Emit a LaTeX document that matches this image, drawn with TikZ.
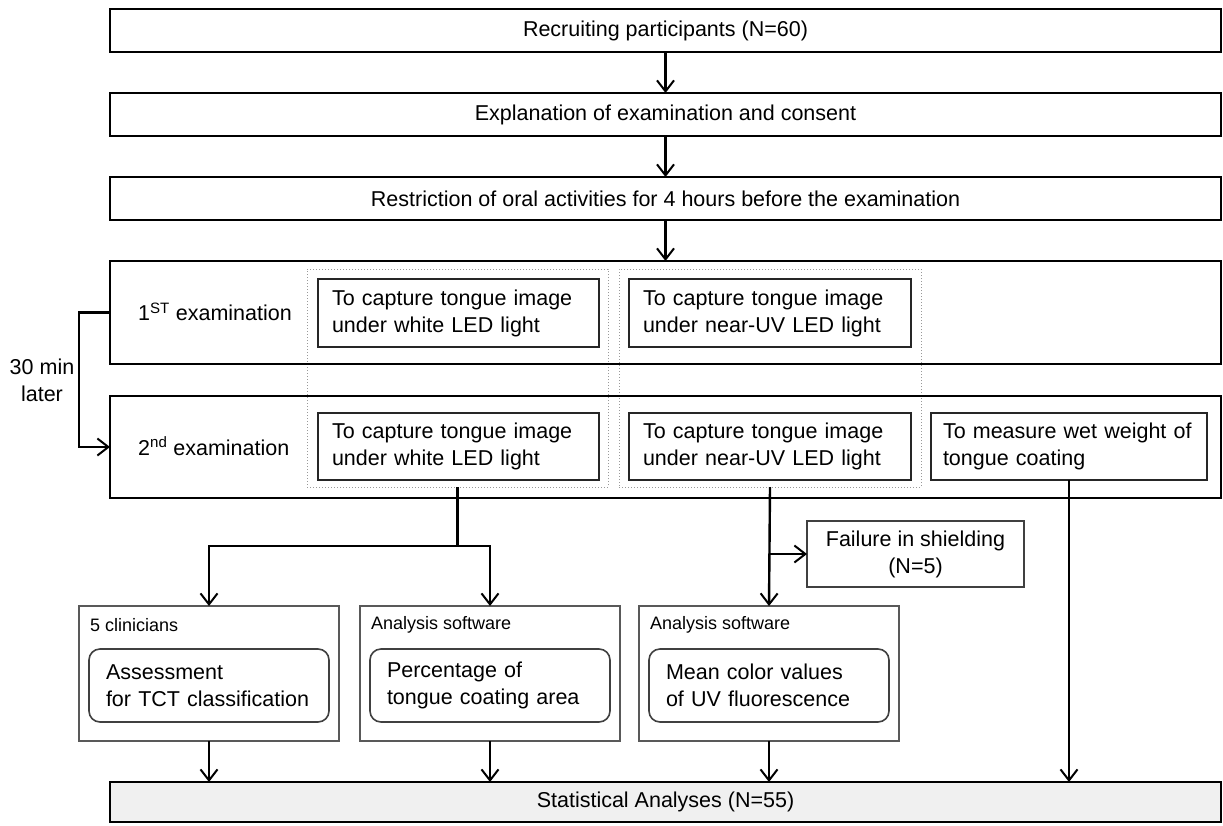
\documentclass[tikz,border=0pt]{standalone}
\usepackage{fontspec}
\setmainfont{Liberation Sans}
\usetikzlibrary{arrows.meta,calc}
\tikzset{
  txt/.style={font=\fontsize{21.5}{27}\selectfont},
  smalltxt/.style={font=\fontsize{18}{21}\selectfont},
  bigbox/.style={draw=black, line width=2.8pt, inner sep=0pt, outer sep=0pt, anchor=north west, txt, align=center},
  stepinner/.style={draw=black!85, line width=1.7pt, inner ysep=0pt, inner xsep=14pt, outer sep=0pt, anchor=north west, txt, align=left},
  grp/.style={draw=black!40, dotted, line width=1pt, inner sep=0pt, outer sep=0pt, anchor=north west},
  anbox/.style={draw=black!65, line width=1.6pt, inner sep=0pt, outer sep=0pt, anchor=north west},
  rbox/.style={draw=black!75, line width=1.6pt, rounded corners=11pt, inner ysep=0pt, inner xsep=17pt, outer sep=0pt, anchor=north west, txt, align=left},
  failbox/.style={draw=black!75, line width=1.7pt, inner sep=0pt, outer sep=0pt, anchor=north west, txt, align=center},
  conn/.style={line width=2.4pt},
  arr/.style={line width=2.4pt, -{Straight Barb[length=11pt,width=17pt,line width=2pt]}},
}
\begin{document}
\begin{tikzpicture}[x=1pt,y=-1pt]
\useasboundingbox (0,0) rectangle (1223,825);
% top steps
\node[bigbox, minimum width=1111pt, minimum height=43pt] (r1) at (110,9) {Recruiting participants (N=60)};
\node[bigbox, minimum width=1111pt, minimum height=43pt] (r2) at (110,93) {Explanation of examination and consent};
\node[bigbox, minimum width=1111pt, minimum height=43pt] (r3) at (110,177) {Restriction of oral activities for 4 hours before the examination};
% dotted groups
\node[grp, minimum width=301pt, minimum height=218pt] (gW) at (307,269) {};
\node[grp, minimum width=302pt, minimum height=218pt] (gU) at (619,269) {};
% exam boxes
\node[bigbox, minimum width=1111pt, minimum height=103pt] (ex1) at (110,261) {};
\node[bigbox, minimum width=1111pt, minimum height=102pt] (ex2) at (110,396) {};
\node[txt, anchor=west, inner sep=0pt] (l1) at (138,312) {1\textsuperscript{ST} examination};
\node[txt, anchor=west, inner sep=0pt] (l2) at (138,446) {2\textsuperscript{nd} examination};
\node[txt, align=center, inner sep=0pt] (later) at (42,380) {30 min\\later};
% inner boxes
\node[stepinner, text width=253pt, minimum height=68pt] (w1) at (318,279) {To capture tongue image\\under white LED light};
\node[stepinner, text width=254pt, minimum height=68pt] (u1) at (629,279) {To capture tongue image\\under near-UV LED light};
\node[stepinner, text width=253pt, minimum height=67pt] (w2) at (318,413) {To capture tongue image\\under white LED light};
\node[stepinner, text width=254pt, minimum height=67pt] (u2) at (629,413) {To capture tongue image\\under near-UV LED light};
\node[stepinner, inner xsep=12pt, text width=252pt, minimum height=67pt] (m2) at (931,413) {To measure wet weight of\\tongue coating};
% failure
\node[failbox, minimum width=217pt, minimum height=66pt] (fail) at (807,521) {Failure in shielding\\(N=5)};
% analysis boxes
\node[anbox, minimum width=260pt, minimum height=135pt] (c1) at (79,606) {};
\node[anbox, minimum width=260pt, minimum height=135pt] (c2) at (360,606) {};
\node[anbox, minimum width=260pt, minimum height=135pt] (c3) at (639,606) {};
\node[smalltxt, anchor=west, inner sep=0pt] (c1l) at (90,625) {5 clinicians};
\node[smalltxt, anchor=west, inner sep=0pt] (c2l) at (371,625) {Analysis software};
\node[smalltxt, anchor=west, inner sep=0pt] (c3l) at (650,625) {Analysis software};
\node[rbox, text width=206pt, minimum height=73pt] (a1) at (89,649) {Assessment\\for TCT classification};
\node[rbox, text width=206pt, minimum height=73pt] (a2) at (370,649) {Percentage of\\tongue coating area};
\node[rbox, text width=206pt, minimum height=73pt] (a3) at (649,649) {Mean color values\\of UV fluorescence};
% statistics
\node[bigbox, fill=black!6, minimum width=1111pt, minimum height=40pt] (st) at (110,782) {Statistical Analyses (N=55)};
% connectors
\draw[arr] (r1.south) -- (r2.north);
\draw[arr] (r2.south) -- (r3.north);
\draw[arr] (r3.south) -- (ex1.north);
\draw[arr] (ex1.west) -- ++(-31,0) |- (ex2.west);
\coordinate (sp) at ($(gW.south)+(0,59)$);
\draw[conn] (gW.south) -- (sp);
\draw[arr] (sp) -| (c1.north);
\draw[arr] (sp) -| (c2.north);
\draw[arr] (gU.south) -- (c3.north);
\draw[arr] (gU.south |- fail.west) -- (fail.west);
\draw[arr] (m2.south) -- (m2.south |- st.north);
\draw[arr] (c1.south) -- (c1.south |- st.north);
\draw[arr] (c2.south) -- (c2.south |- st.north);
\draw[arr] (c3.south) -- (c3.south |- st.north);
\end{tikzpicture}
\end{document}
